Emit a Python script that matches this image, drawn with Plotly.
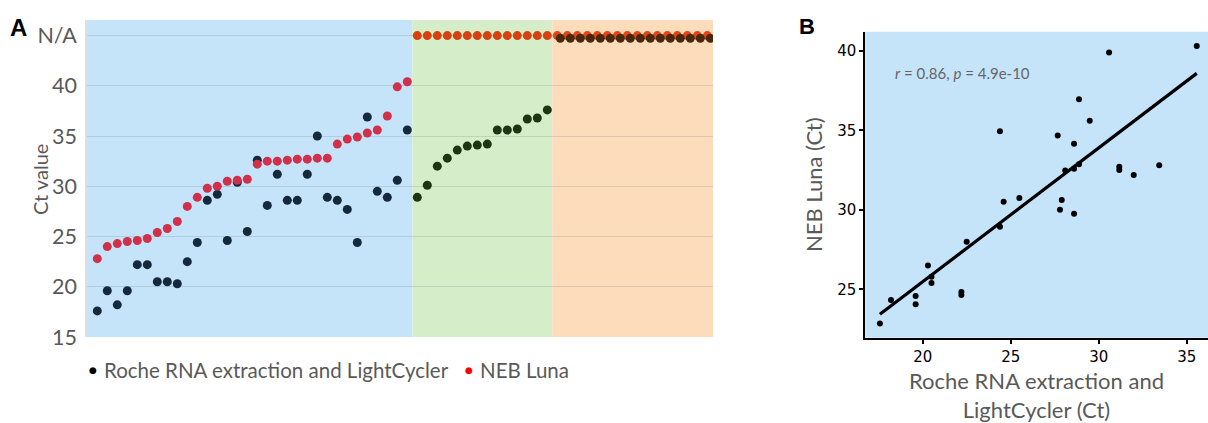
import numpy as np
import plotly.graph_objects as go

# ---------------- Panel A data (sample index order) ----------------
# None = not detected (plotted on the "N/A" row)
roche_ct = [17.6, 19.6, 18.2, 19.6, 22.2, 22.2, 20.5, 20.5, 20.3, 22.5, 24.4, 28.6,
            29.2, 24.6, 30.4, 25.5, 32.6, 28.1, 31.2, 28.6, 28.6, 31.2, 35.0, 28.9,
            28.6, 27.7, 24.4, 36.9, 29.5, 28.9, 30.6, 35.6,
            28.9, 30.1, 32.0, 32.8, 33.6, 34.0, 34.1, 34.2, 35.6, 35.6, 35.7, 36.7, 36.8, 37.6] + [None] * 16
neb_ct = [22.8, 24.0, 24.3, 24.5, 24.6, 24.8, 25.4, 25.8, 26.5, 28.0, 28.9, 29.8,
          30.0, 30.5, 30.6, 30.7, 32.2, 32.5, 32.5, 32.6, 32.7, 32.7, 32.8, 32.8,
          34.2, 34.7, 34.9, 35.3, 35.6, 37.0, 39.9, 40.4] + [None] * 30
group_sizes = [32, 14, 16]          # both detected / only Roche / neither
y_ticks = [15, 20, 25, 30, 35, 40, 45]
y_tick_text = ["15", "20", "25", "30", "35", "40", "N/A"]
NA_LEVEL = 45
legend_names = ["Roche RNA extraction and LightCycler", "NEB Luna"]

# ---------------- Panel B data ----------------
b_roche = [17.57, 18.2, 19.6, 19.6, 20.3, 20.5, 20.5, 22.2, 22.2, 22.5, 24.39, 24.39,
           24.6, 25.49, 27.67, 27.8, 27.9, 28.1, 28.6, 28.6, 28.6, 28.88, 28.88, 29.49,
           30.59, 31.17, 31.17, 31.99, 33.44, 35.57]
b_neb = [22.86, 24.33, 24.58, 24.06, 26.5, 25.4, 25.8, 24.83, 24.64, 28.0, 28.94, 34.94,
         30.51, 30.74, 34.68, 30.0, 30.62, 32.48, 34.16, 32.59, 29.76, 36.95, 32.86, 35.6,
         39.9, 32.71, 32.5, 32.19, 32.8, 40.3]
b_ticks_x = [20, 25, 30, 35]
b_ticks_y = [25, 30, 35, 40]
stat_text = "<i>r</i> = 0.86, <i>p</i> = 4.9e-10"

W, H = 1208, 423
FONT = "Lato"
GREY = "#595959"
BG_COLORS = ["#c5e4f9", "#d6edca", "#fddcbb"]
ROCHE_COLORS = ["#15293d", "#1e3512", "#4a2810"]
NEB_COLORS = ["#d0304a", "#d9400f", "#e64512"]


def px(xp):
    return xp / W


def py(yp):
    return 1 - yp / H


fig = go.Figure()

# region boundaries from group sizes
bounds = np.concatenate([[0], np.cumsum(group_sizes)])
n = len(roche_ct)
idx = np.arange(n)
region = np.searchsorted(bounds[1:], idx, side="right")

x_lo, x_hi = -1.03, n - 0.43
edges = [x_lo] + [b - 0.5 for b in bounds[1:-1]] + [x_hi]
for k in range(3):
    fig.add_shape(type="rect", xref="x", yref="y domain", x0=edges[k], x1=edges[k + 1],
                  y0=0, y1=1, fillcolor=BG_COLORS[k], line_width=0, layer="below")

roche_y = np.array([NA_LEVEL if v is None else v for v in roche_ct], dtype=float)
neb_y = np.array([NA_LEVEL if v is None else v for v in neb_ct], dtype=float)
roche_col = np.array([ROCHE_COLORS[r] for r in region])
neb_col = np.array([NEB_COLORS[r] for r in region])

front = region == 2
fig.add_trace(go.Scatter(x=idx[~front], y=roche_y[~front], mode="markers",
                         marker=dict(size=9, color=list(roche_col[~front])),
                         showlegend=False, xaxis="x", yaxis="y", hoverinfo="skip"))
fig.add_trace(go.Scatter(x=idx, y=neb_y, mode="markers",
                         marker=dict(size=9, color=list(neb_col)),
                         showlegend=False, xaxis="x", yaxis="y", hoverinfo="skip"))
fig.add_trace(go.Scatter(x=idx[front] + 0.3, y=roche_y[front] - 0.27, mode="markers",
                         marker=dict(size=9, color=list(roche_col[front])),
                         showlegend=False, xaxis="x", yaxis="y", hoverinfo="skip"))

# legend (dot + label)
leg_y = py(370)
for dot_x, txt_x, name, col in [(93, 104, legend_names[0], "black"), (469, 480, legend_names[1], "red")]:
    fig.add_annotation(text="●", xref="paper", yref="paper", x=px(dot_x), y=leg_y,
                       xanchor="center", yanchor="middle", showarrow=False,
                       font=dict(family="DejaVu Sans", size=9, color=col))
    fig.add_annotation(text=name, xref="paper", yref="paper", x=px(txt_x - 2), y=leg_y,
                       xanchor="left", yanchor="middle", showarrow=False,
                       font=dict(family=FONT, size=20.5, color=GREY))

# y title panel A
fig.add_annotation(text="Ct value", xref="paper", yref="paper", x=px(40), y=py(180),
                   textangle=-90, xanchor="center", yanchor="middle", showarrow=False,
                   font=dict(family=FONT, size=20, color=GREY))

# ---------------- Panel B ----------------
fig.add_shape(type="rect", xref="x2 domain", yref="y2 domain", x0=0, x1=1, y0=0, y1=1,
              fillcolor=BG_COLORS[0], line_width=0, layer="below")
bx = np.array(b_roche)
by = np.array(b_neb)
slope, intercept = np.polyfit(bx, by, 1)
lx = np.array([bx.min(), bx.max()])
fig.add_trace(go.Scatter(x=lx, y=slope * lx + intercept, mode="lines",
                         line=dict(color="black", width=3.2), showlegend=False,
                         xaxis="x2", yaxis="y2", hoverinfo="skip"))
fig.add_trace(go.Scatter(x=bx, y=by, mode="markers", marker=dict(size=6, color="black"),
                         showlegend=False, xaxis="x2", yaxis="y2", hoverinfo="skip",
                         cliponaxis=False))

fig.add_annotation(text=stat_text, xref="x2 domain", yref="y2 domain", x=0.08, y=0.865,
                   xanchor="left", yanchor="middle", showarrow=False,
                   font=dict(family=FONT, size=15, color="#666666"))

# panel labels
fig.add_annotation(text="<b>A</b>", xref="paper", yref="paper", x=px(8), y=py(28),
                   xanchor="left", yanchor="middle", showarrow=False,
                   font=dict(family="Liberation Sans", size=24, color="black"))
fig.add_annotation(text="<b>B</b>", xref="paper", yref="paper", x=px(797), y=py(27),
                   xanchor="left", yanchor="middle", showarrow=False,
                   font=dict(family="Liberation Sans", size=22, color="black"))

# x title panel B (two lines)
fig.add_annotation(text="Roche RNA extraction and<br>LightCycler (Ct)", xref="x2 domain", yref="paper",
                   x=0.5, y=py(395), xanchor="center", yanchor="middle", showarrow=False,
                   font=dict(family=FONT, size=22, color=GREY))

fig.update_layout(
    width=W, height=H,
    margin=dict(l=0, r=0, t=0, b=0, autoexpand=False),
    paper_bgcolor="white", plot_bgcolor="white",
    font=dict(family=FONT, color=GREY),
    showlegend=False,
    xaxis=dict(domain=[px(87), px(713)], range=[x_lo, x_hi], showgrid=False,
               showticklabels=False, zeroline=False, showline=False, fixedrange=True),
    yaxis=dict(domain=[py(337), py(20)], range=[15, 46.55],
               tickvals=y_ticks, ticktext=y_tick_text, showgrid=True,
               gridcolor="rgba(110,120,130,0.22)", gridwidth=1.3, zeroline=False,
               showline=True, linecolor="rgba(110,130,150,0.25)", linewidth=1.5,
               ticks="outside", ticklen=4, tickcolor="rgba(0,0,0,0)",
               tickfont=dict(family=FONT, size=21.5, color=GREY)),
    xaxis2=dict(domain=[px(865.3), 1.0], range=[16.74, 36.21], anchor="y2",
                tickvals=b_ticks_x, showgrid=False, zeroline=False,
                showline=True, linecolor="black", linewidth=2,
                ticks="outside", ticklen=4, tickwidth=1.5, tickcolor="black",
                tickfont=dict(family="DejaVu Sans", size=15, color="black")),
    yaxis2=dict(domain=[py(337.7), py(31.7)], range=[21.96, 41.2], anchor="x2",
                tickvals=b_ticks_y, showgrid=False, zeroline=False,
                showline=True, linecolor="black", linewidth=2,
                ticks="outside", ticklen=4, tickwidth=1.5, tickcolor="black",
                tickfont=dict(family="DejaVu Sans", size=15, color="black"),
                title=dict(text="NEB Luna (Ct)", font=dict(family=FONT, size=22, color=GREY), standoff=8)),
)

css_fix = (
    "document.documentElement.style.cssText='margin:0;padding:0;overflow:hidden;';"
    "document.body.style.cssText='margin:0;padding:0;overflow:hidden;';"
)
fig.write_html("out.html", config={"displayModeBar": False}, post_script=css_fix)
